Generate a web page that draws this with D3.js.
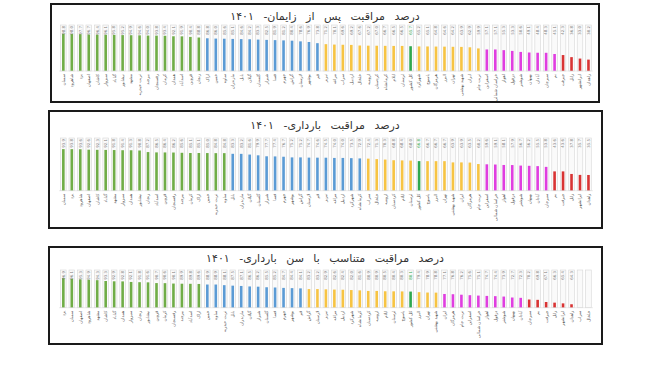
<!DOCTYPE html>
<html>
<head>
<meta charset="utf-8">
<script src="https://cdn.jsdelivr.net/npm/d3@7"></script>
<style>
body { margin: 0; background: #fff; }
svg { display: block; }
</style>
</head>
<body>
<svg width="650" height="365"></svg>
<script>
// ---- chart 1: postpartum care
var title1 = "درصد مراقبت پس از زایمان- ۱۴۰۱";
var names1 = ["سمنان","شاهرود","یزد","اصفهان","کاشان","سبزوار","گناباد","نیشابور","مشهد","تربت حیدریه","بیرجند","رفسنجان","کرمان","همدان","اسدآباد","قزوین","زنجان",
  "اراک","خمین","ساوه","مازندران","بابل","گیلان","گلستان","شیراز","فسا","جهرم","گراش","لارستان","بوشهر","قم",
  "تبریز","مراغه","سراب","اردبیل","خلخال","ارومیه","کردستان","کرمانشاه","ایلام","لرستان",
  "کل کشور",
  "شهرکرد","یاسوج","هرمزگان","البرز","تهران","شهید بهشتی","ایران","تربت جام",
  "اسفراین","خراسان شمالی","اهواز","دزفول","شوشتر","بهبهان","آبادان","سیرجان","بم",
  "جیرفت","زابل","ایرانشهر","زاهدان"];
var values1 = [98.8,98.0,97.7,96.7,96.4,96.1,95.8,95.2,94.9,94.6,94.0,93.8,93.4,92.1,91.9,90.4,88.8,
  86.8,86.0,85.6,85.1,84.6,84.2,83.3,82.5,81.9,81.2,80.4,78.6,76.9,73.8,
  71.2,70.1,69.6,69.2,67.6,67.2,67.0,66.7,66.5,66.5,
  65.7,
  65.2,65.1,64.8,64.6,64.2,63.9,62.9,59.9,
  57.1,57.1,55.3,53.3,50.6,49.1,48.4,48.3,45.1,
  42.3,36.8,33.0,30.2];
var groups1 = [["g",17],["b",14],["y",10],["t",1],["y",8],["m",9],["r",4]];

// ---- chart 2: pregnancy care
var title2 = "درصد مراقبت بارداری- ۱۴۰۱";
var names2 = ["سمنان","یزد","شاهرود","اصفهان","کاشان","گناباد","مشهد","سبزوار","همدان","نیشابور","زنجان","اسدآباد","قزوین","رفسنجان","بیرجند","کرمان","اراک","خمین","تربت حیدریه","ساوه",
  "بابل","مازندران","گیلان","گلستان","شیراز","فسا","جهرم","بوشهر","گراش","لارستان","قم","تبریز","مراغه","اردبیل","شهرکرد","کرمانشاه",
  "سراب","خلخال","ارومیه","کردستان","ایلام","لرستان",
  "کل کشور",
  "یاسوج","البرز","تهران","شهید بهشتی","ایران","هرمزگان","تربت جام",
  "اسفراین","خراسان شمالی","اهواز","دزفول","شوشتر","بهبهان","آبادان","سیرجان",
  "بم","جیرفت","زابل","ایرانشهر","زاهدان"];
var values2 = [93.9,93.8,93.6,92.6,92.3,92.1,91.8,91.4,91.3,90.8,87.2,86.5,86.4,86.2,85.6,85.1,85.1,85.0,84.8,84.8,
  83.3,83.2,81.6,79.9,77.7,77.4,76.7,75.2,75.2,74.7,74.6,74.5,74.0,74.0,73.5,72.9,
  72.4,71.3,70.3,68.8,68.4,68.0,
  66.8,
  66.7,66.7,66.7,63.9,63.9,63.5,60.2,
  59.6,59.1,58.1,57.9,56.7,56.2,55.5,53.8,
  43.6,43.6,37.8,35.7,35.5];
var groups2 = [["g",20],["b",16],["y",6],["t",1],["y",7],["m",8],["r",5]];

// ---- chart 3: care matched to gestational age
var title3 = "درصد مراقبت متناسب با سن بارداری- ۱۴۰۱";
var names3 = ["یزد","سمنان","اصفهان","شاهرود","مشهد","کاشان","گناباد","همدان","سبزوار","زنجان","نیشابور","قزوین","کرمان","رفسنجان","بیرجند","اسدآباد","اراک",
  "خمین","ساوه","تربت حیدریه","بابل","مازندران","گیلان","شیراز","گلستان","فسا","جهرم","بوشهر","قم",
  "گراش","لارستان","تبریز","مراغه","اردبیل","شهرکرد","کرمانشاه","کردستان","ارومیه","ایلام","لرستان","یاسوج",
  "کل کشور",
  "البرز","تهران","شهید بهشتی",
  "ایران","هرمزگان","تربت جام","اسفراین","خراسان شمالی","اهواز","دزفول","شوشتر","بهبهان","آبادان",
  "سیرجان","بم","جیرفت","زابل","ایرانشهر","زاهدان",
  "سراب","خلخال"];
var values3 = [96.9,96.1,95.3,94.9,94.3,93.3,92.9,92.8,92.1,91.8,91.6,90.7,90.6,90.1,89.9,89.8,89.6,
  88.9,88.9,88.1,87.5,87.1,86.5,86.2,85.5,85.2,84.7,84.4,84.1,
  83.2,83.2,82.9,82.6,82.4,82.0,81.6,80.9,80.9,80.5,80.4,80.3,
  80.1,
  79.4,78.9,78.8,
  77.1,76.8,76.2,75.6,75.1,74.7,74.4,73.9,72.7,72.3,
  70.2,69.8,67.1,66.3,65.4,64.3,
  null,null];
var groups3 = [["g",17],["b",12],["y",12],["t",1],["y",3],["m",10],["r",6],["n",2]];

var svg = d3.select("svg");

var color = d3.scaleOrdinal()
  .domain(["g","b","y","t","m","r","n"])
  .range(["#70ad47","#5b9bd5","#f7c443","#2fa84f","#e03ee0","#d93434","none"]);

function expand(runs) {
  var out = [];
  runs.forEach(r => { for (var i = 0; i < r[1]; i++) out.push(r[0]); });
  return out;
}

function drawPanel(p) {
  var g = svg.append("g");
  g.append("rect")
    .attr("x", p.box[0]).attr("y", p.box[1])
    .attr("width", p.box[2] - p.box[0]).attr("height", p.box[3] - p.box[1])
    .attr("fill", "#fff").attr("stroke", "#1a1a1a").attr("stroke-width", 2);

  g.append("text")
    .attr("x", 325).attr("y", p.titleY)
    .attr("text-anchor", "middle")
    .attr("font-family", "DejaVu Sans")
    .attr("font-size", 11)
    .attr("word-spacing", 6)
    .attr("fill", "#333")
    .text(p.title);

  var tiers = expand(p.groups);
  var rows = p.names.map((n, i) => ({name: n, value: p.values[i], tier: tiers[i]}));

  var x = d3.scaleBand().domain(p.names).range([59.1, 592.7]);
  var y = d3.scaleLinear().domain(p.domain).range([p.base, p.top]);
  var bw = x.bandwidth();

  // light background columns
  g.selectAll(".bg").data(rows).join("rect")
    .attr("x", d => x(d.name) + bw / 2 - 2.8)
    .attr("y", p.top)
    .attr("width", 5.6)
    .attr("height", p.base - p.top)
    .attr("fill", "#fafafa")
    .attr("stroke", "#d6d6d6")
    .attr("stroke-width", 0.6);

  var real = rows.filter(d => d.value != null);
  g.selectAll(".bar").data(real).join("rect")
    .attr("x", d => x(d.name) + bw / 2 - 1.3)
    .attr("y", d => y(d.value))
    .attr("width", 2.6)
    .attr("height", d => y(p.domain[0]) - y(d.value))
    .attr("fill", d => color(d.tier));

  g.selectAll(".vl").data(real).join("text")
    .attr("transform", d => "translate(" + (x(d.name) + bw / 2 + 1.3) + "," + (p.top + 1) + ") rotate(-90)")
    .attr("text-anchor", "end")
    .attr("font-family", "DejaVu Sans")
    .attr("font-size", 3.9)
    .attr("fill", d => d.tier == "t" ? "#2fa84f" : "#7a7a7a")
    .text(d => d3.format(".1f")(d.value));

  g.append("line")
    .attr("x1", 59).attr("x2", 593)
    .attr("y1", p.base).attr("y2", p.base)
    .attr("stroke", "#e0e0e0").attr("stroke-width", 0.6);

  g.selectAll(".xl").data(rows).join("text")
    .attr("transform", d => "translate(" + (x(d.name) + bw / 2 + 1.4) + "," + (p.base + 3) + ") rotate(-90)")
    .attr("text-anchor", "end")
    .attr("font-family", "DejaVu Sans")
    .attr("font-size", 4.2)
    .attr("fill", "#555")
    .text(d => d.name);
}

drawPanel({title: title1, names: names1, values: values1, groups: groups1,
  box: [51, 4, 599, 102], titleY: 20, top: 25, base: 71, domain: [0, 122]});
drawPanel({title: title2, names: names2, values: values2, groups: groups2,
  box: [49, 111, 602, 228], titleY: 129, top: 138, base: 190.7, domain: [0, 119]});
drawPanel({title: title3, names: names3, values: values3, groups: groups3,
  box: [49, 247, 602, 344], titleY: 262, top: 270, base: 307.7, domain: [60, 107]});
</script>
</body>
</html>
